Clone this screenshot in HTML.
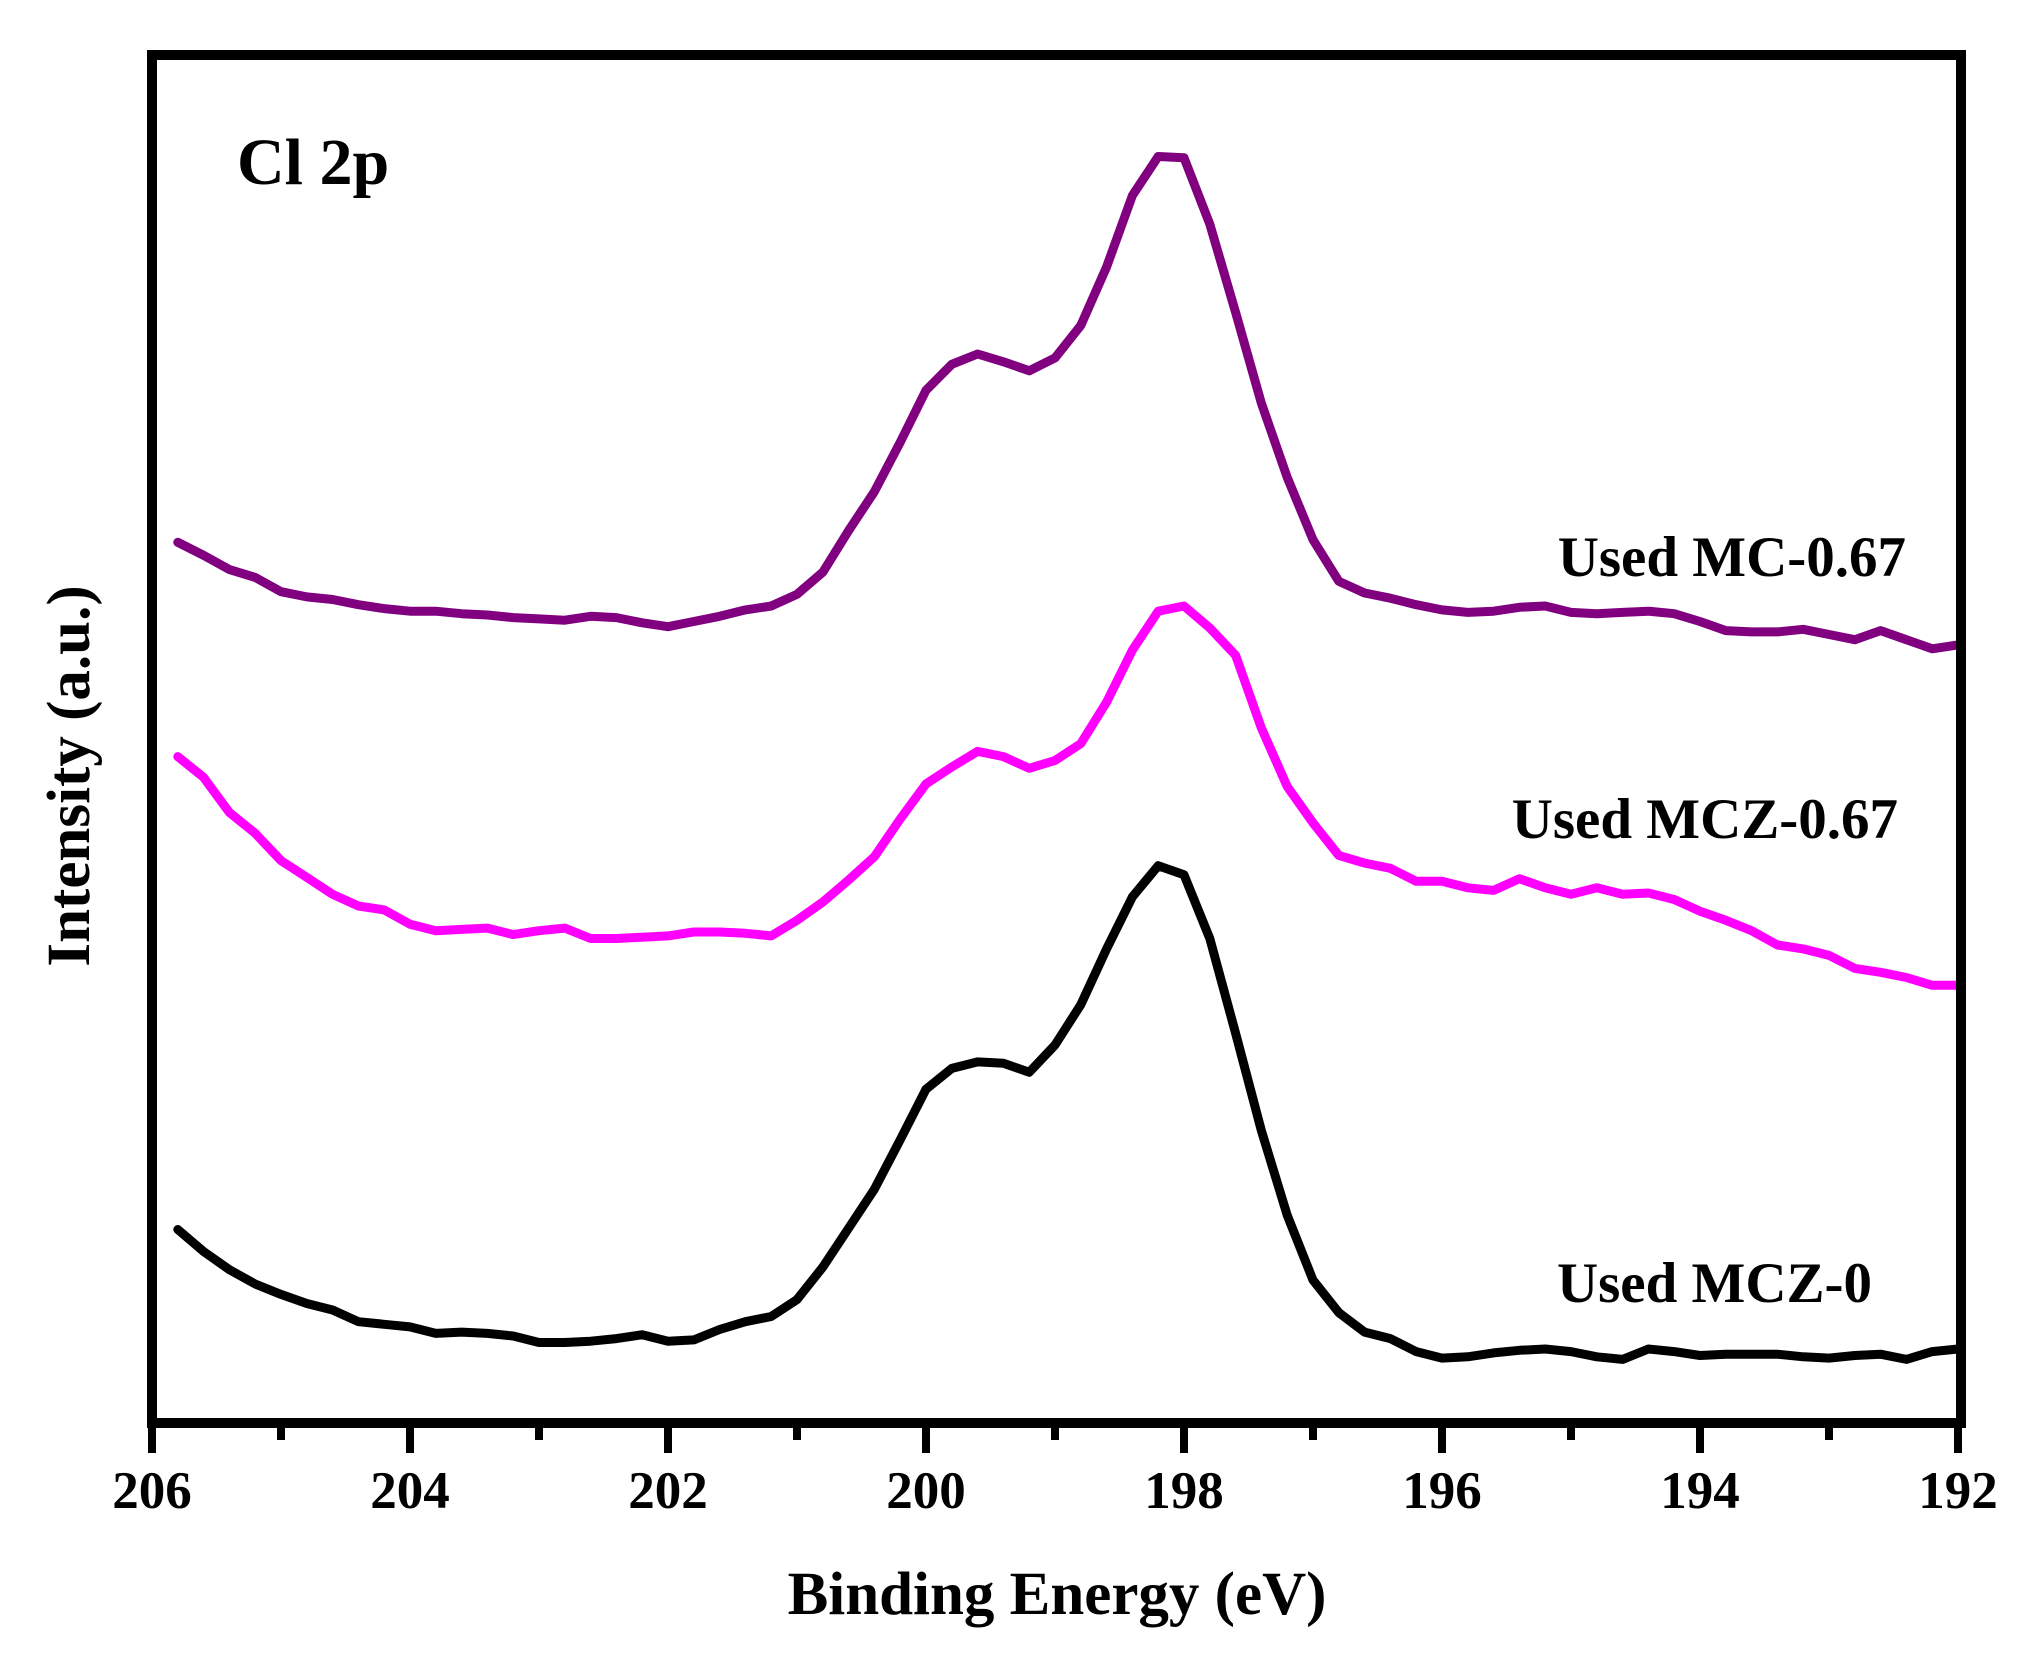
<!DOCTYPE html>
<html><head><meta charset="utf-8"><style>
html,body{margin:0;padding:0;background:#fff;}
svg{display:block;}
text{font-family:"Liberation Serif",serif;font-weight:bold;fill:#000;}
</style></head><body>
<svg id="chart" width="2034" height="1654" viewBox="0 0 2034 1654">
  <g id="series"></g>
  <rect x="152" y="55" width="1809" height="1368" fill="none" stroke="#000" stroke-width="10"/>
  <g id="ticks"></g>
  <text x="237" y="184" font-size="66">Cl 2p</text>
  <text x="1906" y="576" font-size="57" text-anchor="end">Used MC-0.67</text>
  <text x="1898" y="838" font-size="57" text-anchor="end">Used MCZ-0.67</text>
  <text x="1872" y="1302" font-size="57" text-anchor="end">Used MCZ-0</text>
  <text x="1057" y="1614" font-size="61" text-anchor="middle">Binding Energy (eV)</text>
  <text x="0" y="0" font-size="61" text-anchor="middle" transform="translate(89,776) rotate(-90)">Intensity (a.u.)</text>
</svg>
<script>
const energyStart = 205.8;
const energyStep = 0.2;
const mc067 = [678,668,657,651,640,636,634,630,627,625,
625,623,622,620,619,618,621,620,616,613,
617,621,626,629,638,655,687,717,755,795,
815,823,817,810,820,845,890,945,975,974,
923,855,785,728,680,648,639,635,630,626,
624,625,628,629,624,623,624,625,623,617,
610,609,609,611,607,603,610,603,596,599];
const mcz067 = [513,497,470,454,433,420,407,398,395,384,
379,380,381,376,379,381,373,373,374,375,
378,378,377,375,387,401,418,436,465,492,
505,517,513,504,510,523,555,595,625,629,
612,591,535,490,462,437,431,427,417,417,
412,410,419,412,407,412,407,408,403,394,
387,379,368,365,360,350,347,343,337,337];
const mcz0 = [149,132,118,107,99,92,87,78,76,74,
69,70,69,67,62,62,63,65,68,63,
64,72,78,82,95,120,150,180,218,257,
273,278,277,270,291,322,365,405,429,422,
373,300,225,160,110,85,70,65,55,50,
51,54,56,57,55,51,49,57,55,52,
53,53,53,51,50,52,53,49,55,57];
const majorTicks = [206,204,202,200,198,196,194,192];
const minorTicks = [205,203,201,199,197,195,193];

const X0=152, X1=1958, XMAX=206, XMIN=192;
const Y0=1423, Y1=50, VMIN=0, VMAX=1057;
function xs(e){return X0+(XMAX-e)/(XMAX-XMIN)*(X1-X0);}
function ys(v){return Y0-(v-VMIN)/(VMAX-VMIN)*(Y0-Y1);}
const NS="http://www.w3.org/2000/svg";
const sg=document.getElementById('series');
function drawSeries(vals,color,name){
  let d='';
  vals.forEach((v,i)=>{const e=energyStart-i*energyStep;d+=(i?'L':'M')+xs(e).toFixed(1)+' '+ys(v).toFixed(1);});
  const p=document.createElementNS(NS,'path');
  p.setAttribute('d',d);p.setAttribute('fill','none');p.setAttribute('stroke',color);
  p.setAttribute('stroke-width','9');p.setAttribute('stroke-linejoin','round');p.setAttribute('stroke-linecap','round');
  
  
  sg.appendChild(p);
}
drawSeries(mc067,'#800080','line-used-mc-0.67');
drawSeries(mcz067,'#ff00ff','line-used-mcz-0.67');
drawSeries(mcz0,'#000000','line-used-mcz-0');
const tg=document.getElementById('ticks');
majorTicks.forEach(t=>{
  const l=document.createElementNS(NS,'line');
  l.setAttribute('x1',xs(t));l.setAttribute('x2',xs(t));l.setAttribute('y1',1423);l.setAttribute('y2',1453);
  l.setAttribute('stroke','#000');l.setAttribute('stroke-width','8');
  
  
  tg.appendChild(l);
  const tx=document.createElementNS(NS,'text');
  tx.setAttribute('x',xs(t));tx.setAttribute('y',1508);tx.setAttribute('font-size','53');tx.setAttribute('text-anchor','middle');
  tx.textContent=t;
  
  
  tg.appendChild(tx);
});
minorTicks.forEach(t=>{
  const l=document.createElementNS(NS,'line');
  l.setAttribute('x1',xs(t));l.setAttribute('x2',xs(t));l.setAttribute('y1',1423);l.setAttribute('y2',1440);
  l.setAttribute('stroke','#000');l.setAttribute('stroke-width','8');
  
  
  tg.appendChild(l);
});
</script>
</body></html>
